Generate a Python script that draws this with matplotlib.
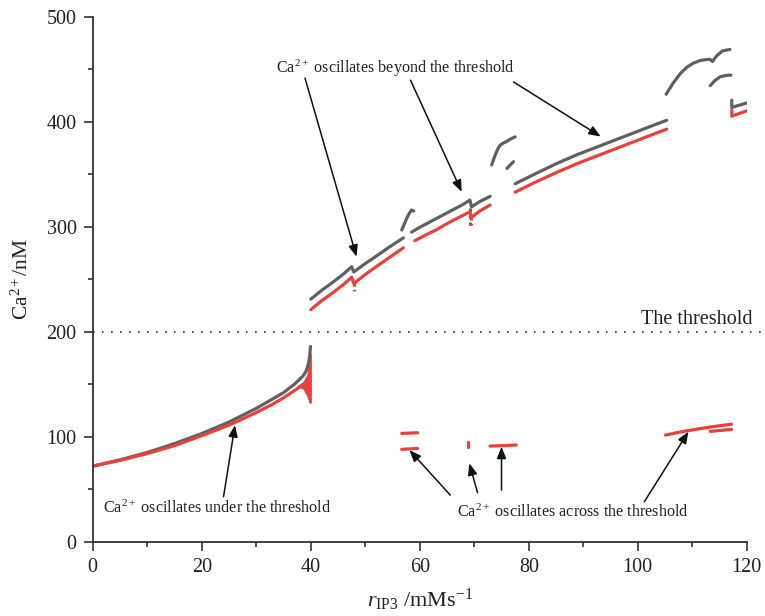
import matplotlib
matplotlib.use("Agg")
import matplotlib.pyplot as plt
from matplotlib.ticker import MultipleLocator

plt.rcParams['font.family'] = ['Liberation Serif', 'DejaVu Serif']
plt.rcParams['mathtext.fontset'] = 'custom'
plt.rcParams['mathtext.rm'] = 'Liberation Serif'
plt.rcParams['mathtext.it'] = 'Liberation Serif:italic'

GRAY = '#606060'
RED = '#e8413a'

# ---------------- data ----------------
# lower branch (below threshold)
low_x = [0, 5, 10, 15, 20, 25, 30, 33, 35, 37, 38]
low_gray_y = [72, 78, 85, 93.5, 103, 114, 127, 136, 142, 150, 155]
low_red_y = [72, 77.5, 84, 91.5, 101, 111, 123, 131, 137, 144, 147.5]
spike_x = [38, 38.6, 39.1, 39.5, 39.8, 39.95]
spike_y = [155, 158, 162, 168, 176, 186]
fan_x = [37.7, 38.8, 39.5, 39.9, 40.1, 40.1, 39.9, 39.5, 38.8]
fan_y = [148, 152, 159, 178, 178, 132, 132, 138, 145]

# upper branch, gray (max) and red (min)
g1_x = [40, 42, 44, 46, 47.5, 47.9, 50, 52, 54.5, 57]
g1_y = [231, 239.5, 247, 255, 262, 257, 265, 272, 281, 289.5]
r1_x = [40, 42, 44, 46, 47.5, 47.9, 50, 52, 54.5, 57]
r1_y = [221, 229.5, 237, 245, 252, 246, 254.5, 262, 271, 280]
r1_dip_x = [47.9, 47.9]
r1_dip_y = [246, 239]

gh1_x = [56.7, 57.2, 57.6, 58.1, 58.5, 58.9]
gh1_y = [297, 303, 308, 313, 316, 315]

g2_x = [58.5, 60, 62, 64, 66, 68, 69.2, 69.5, 71, 72.9]
g2_y = [295, 299.5, 305, 310.5, 316, 321.5, 325.5, 319, 324, 329]
g2_dip_x = [69.3, 69.3]
g2_dip_y = [318, 300]
r2_x = [59.1, 61, 63, 65, 67, 69.2, 69.5, 71, 72.9]
r2_y = [286.7, 292, 297, 303, 308.5, 314.3, 309, 315, 320.7]
r2_dip_x = [69.4, 69.4]
r2_dip_y = [309, 302]

gh3a_x = [73.2, 73.6, 74.0, 74.4, 74.8, 75.4, 76.0, 76.8, 77.5]
gh3a_y = [359, 365, 370.5, 375, 378, 380, 381.5, 384, 385.7]
gh3b_x = [76.0, 76.6, 77.2]
gh3b_y = [355.6, 359, 362]

g4_x = [77.5, 81, 85, 89, 93, 97, 100, 103, 105.3]
g4_y = [341, 350, 360, 369, 377, 385, 391, 397, 401.5]
r4_x = [77.5, 81, 85, 89, 93, 97, 100, 103, 105.3]
r4_y = [333, 342, 351.5, 360.5, 368.5, 376.5, 382.5, 388.5, 393]

g5a_x = [105.2, 106.5, 107.8, 109, 110.2, 111.5, 112.8, 113.3, 113.7,
         114.5, 115.5, 116.9]
g5a_y = [426.3, 437, 446, 452, 456, 458.5, 459.5, 459.4, 457.5,
         463, 467.5, 469]
g5b_x = [113.3, 114.2, 115.1, 116.1, 117.1]
g5b_y = [434.5, 439.5, 442.9, 444.2, 444.5]
g5c_x = [117.25, 117.25, 120]
g5c_y = [420.6, 413.7, 418]
r5c_x = [117.25, 117.25, 120]
r5c_y = [411, 405.4, 410.5]

# red pieces below threshold (oscillation across threshold)
ra1_x = [56.7, 59.6]
ra1_y = [103.2, 103.8]
ra2_x = [56.7, 59.6]
ra2_y = [88, 88.9]
ra3_x = [68.9, 68.9]
ra3_y = [95.2, 90.5]
ra4_x = [72.9, 77.7]
ra4_y = [91.1, 92.1]
rb1_x = [105.1, 107.5, 110, 113, 117.2]
rb1_y = [101.6, 104.2, 106.5, 109, 112]
rb2_x = [113.3, 117.2]
rb2_y = [105.1, 107]

threshold = 200

# annotations: (tail, tip)
beyond_text = (55.5, 451)
beyond_arrows = [((38.95, 441.6), (48.4, 271.5)),
                 ((58.3, 439.7), (67.7, 333.3)),
                 ((77.2, 438.0), (93.2, 386.0))]
under_text = (22.8, 32)
under_arrows = [((24.0, 42.9), (26.1, 111.0))]
across_text = (88.0, 28.3)
across_arrows = [((65.6, 44.4), (58.1, 87.3)),
                 ((70.6, 46.7), (69.1, 74.7)),
                 ((75.0, 49.2), (75.0, 90.5)),
                 ((101.2, 38.1), (109.3, 104.8))]

# ---------------- figure ----------------
fig = plt.figure(figsize=(7.65, 6.16), dpi=100)
ax = fig.add_axes([0.1212, 0.1206, 0.855, 0.852])

lw = 2.3
def pl(x, y, c, **kw):
    ax.plot(x, y, color=c, lw=kw.pop('lw', lw), solid_capstyle='round',
            solid_joinstyle='round', **kw)

pl(low_x, low_gray_y, GRAY)
pl(spike_x, spike_y, GRAY)
pl(low_x, low_red_y, RED)
ax.fill(fan_x, fan_y, color=RED, lw=0.8, ec=RED)

pl(g1_x, g1_y, GRAY)
pl(r1_x, r1_y, RED)
pl(r1_dip_x, r1_dip_y, RED, ls=(0, (1, 1)))
pl(gh1_x, gh1_y, GRAY)
pl(g2_x, g2_y, GRAY)
pl(g2_dip_x, g2_dip_y, GRAY, ls=(0, (1, 1.2)))
pl(r2_x, r2_y, RED)
pl(r2_dip_x, r2_dip_y, RED, ls=(0, (1, 1)))
pl(gh3a_x, gh3a_y, GRAY)
pl(gh3b_x, gh3b_y, GRAY)
pl(g4_x, g4_y, GRAY)
pl(r4_x, r4_y, RED)
pl(g5a_x, g5a_y, GRAY)
pl(g5b_x, g5b_y, GRAY)
pl(g5c_x, g5c_y, GRAY)
pl(r5c_x, r5c_y, RED)

for xs, ys in [(ra1_x, ra1_y), (ra2_x, ra2_y), (ra3_x, ra3_y), (ra4_x, ra4_y),
               (rb1_x, rb1_y), (rb2_x, rb2_y)]:
    pl(xs, ys, RED)

# threshold
ax.plot([0, 123.3], [threshold, threshold], color='#333333', lw=1.2,
        ls=(0, (1, 4.4)), clip_on=False)
ax.text(121, threshold + 2.5, 'The threshold', ha='right', va='bottom',
        fontsize=14.5, color='#222222', clip_on=False)

arrow_kw = dict(arrowstyle='-|>,head_length=0.7,head_width=0.28',
                color='#111111', lw=1.1, shrinkA=0, shrinkB=0)
tfs = 11.6
ax.text(*beyond_text, r'Ca$^{2+}$ oscillates beyond the threshold',
        ha='center', va='center', fontsize=tfs, color='#222222')
for tail, tip in beyond_arrows:
    ax.annotate('', xy=tip, xytext=tail, arrowprops=arrow_kw)
ax.text(*under_text, r'Ca$^{2+}$ oscillates under the threshold',
        ha='center', va='center', fontsize=tfs, color='#222222')
for tail, tip in under_arrows:
    ax.annotate('', xy=tip, xytext=tail, arrowprops=arrow_kw)
ax.text(*across_text, r'Ca$^{2+}$ oscillates across the threshold',
        ha='center', va='center', fontsize=tfs, color='#222222')
for tail, tip in across_arrows:
    ax.annotate('', xy=tip, xytext=tail, arrowprops=arrow_kw)

ax.set_xlim(0, 120)
ax.set_ylim(0, 500)
ax.xaxis.set_major_locator(MultipleLocator(20))
ax.xaxis.set_minor_locator(MultipleLocator(10))
ax.yaxis.set_major_locator(MultipleLocator(100))
ax.yaxis.set_minor_locator(MultipleLocator(50))
for s in ['top', 'right']:
    ax.spines[s].set_visible(False)
for s in ['left', 'bottom']:
    ax.spines[s].set_color('#333333')
    ax.spines[s].set_linewidth(1.3)
ax.tick_params(which='major', direction='out', length=6.5, width=1.2,
               color='#333333', labelsize=14.5, labelcolor='#222222', pad=5)
ax.tick_params(which='minor', direction='out', length=3.5, width=1.2,
               color='#333333')

ax.set_xlabel(r'$r_{\rm IP3}$ /mMs$^{-1}$', fontsize=16, color='#222222')
ax.xaxis.set_label_coords(0.5, -0.085)
ax.set_ylabel(r'Ca$^{2+}$/nM', fontsize=15.5, color='#222222', labelpad=10)

fig.savefig('out.png', dpi=100)
